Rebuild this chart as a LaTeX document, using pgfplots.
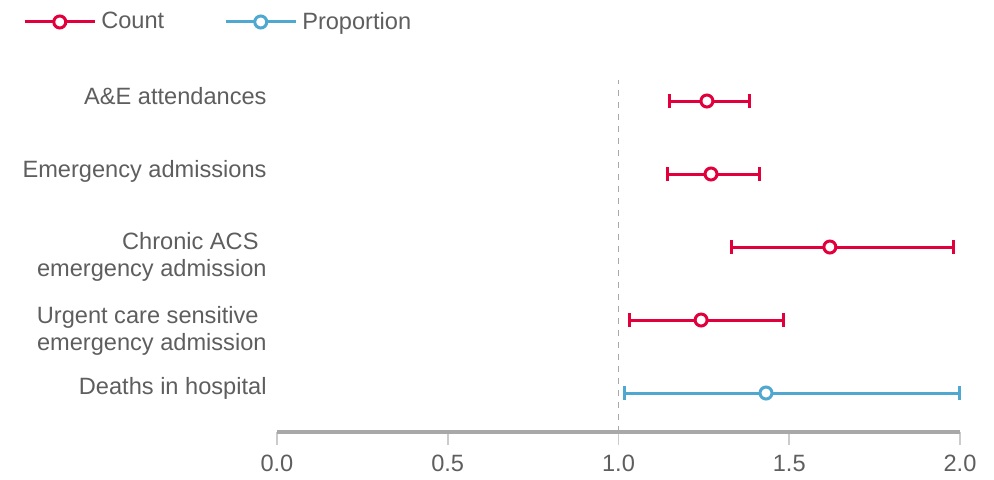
\documentclass[border=0pt]{standalone}
\usepackage{pgfplots}
\pgfplotsset{compat=1.18}
\usepackage{fontspec}
\setmainfont{Liberation Sans}
\definecolor{cred}{HTML}{E2003C}
\definecolor{cblue}{HTML}{4FA8CF}
\definecolor{txt}{HTML}{5E5E5E}
\definecolor{axgray}{HTML}{A8A8A8}
\begin{document}
\begin{tikzpicture}
\begin{axis}[
  x=170.75pt, y=36.5pt,
  xmin=0, xmax=2, ymin=0.466, ymax=5.6,
  axis y line=none,
  axis x line=bottom,
  x axis line style={-, line width=1.6pt, draw=axgray},
  xtick={0,0.5,1,1.5,2},
  tick align=outside,
  major tick length=6.5pt,
  xtick style={draw=axgray!60, line width=0.8pt},
  xticklabel style={text=txt, font=\fontsize{11.8}{13.5}\selectfont, yshift=-1.5pt},
  /pgf/number format/assume math mode=true,
  /pgf/number format/.cd, fixed, fixed zerofill, precision=1,
  /pgfplots/.cd,
  clip=false,
  unbounded coords=jump,
  legend style={at={(axis description cs:-0.372,1.094)}, anchor=west,
    draw=none, fill=none, inner sep=0pt,
    font=\fontsize{11.8}{13.5}\selectfont, text=txt,
    nodes={inner sep=0pt, anchor=west},
    column sep=2.5pt,
    /tikz/every even column/.append style={column sep=30pt}},
  legend columns=2,
  legend image code/.code={%
    \draw[#1, line width=1.5pt] (0pt,0pt) -- (35pt,0pt);
    \draw[#1] plot coordinates {(17.5pt,0pt)};},
]
% reference line at 1
\addplot[forget plot, draw=axgray, line width=0.6pt, dash pattern=on 3pt off 3pt] coordinates {(1,0.466) (1,5.29)};

% confidence intervals (lower and upper limits)
\addplot[forget plot, cred, line width=1.5pt, mark=|, mark size=3.3pt, mark options={solid}] table {
  x      y
  1.148  5
  1.385  5
  nan    nan
  1.145  4
  1.414  4
  nan    nan
  1.332  3
  1.982  3
  nan    nan
  1.031  2
  1.482  2
};
\addplot[forget plot, cblue, line width=1.5pt, mark=|, mark size=3.3pt] table {
  x      y
  1.019  1
  2.000  1
};

% Count series (point estimates)
\addplot[only marks, cred, line width=1.5pt, mark=*, mark size=3pt,
  mark options={fill=white, draw=cred, line width=1.5pt}] table {
  x      y
  1.259  5
  1.271  4
  1.619  3
  1.242  2
};
\addlegendentry{Count}

% Proportion series
\addplot[only marks, cblue, line width=1.5pt, mark=*, mark size=3pt,
  mark options={fill=white, draw=cblue, line width=1.5pt}] table {
  x      y
  1.432  1
};
\addlegendentry{Proportion}

% category labels
\begin{scope}[every node/.style={anchor=east, align=right, inner sep=0pt, text=txt, font=\fontsize{11.8}{13.5}\selectfont, xshift=-5pt}]
\node at (axis cs:0,5.068) {A\&E attendances};
\node at (axis cs:0,4.041) {Emergency admissions};
\node at (axis cs:0,2.870) {Chronic ACS\hspace*{4pt}\\emergency admission};
\node at (axis cs:0,1.850) {Urgent care sensitive\hspace*{4pt}\\emergency admission};
\node at (axis cs:0,1.069) {Deaths in hospital};
\end{scope}
% bounding box
\path (axis cs:-0.811,6.3836) rectangle (axis cs:2.0996,-0.178);
\end{axis}
\end{tikzpicture}
\end{document}
